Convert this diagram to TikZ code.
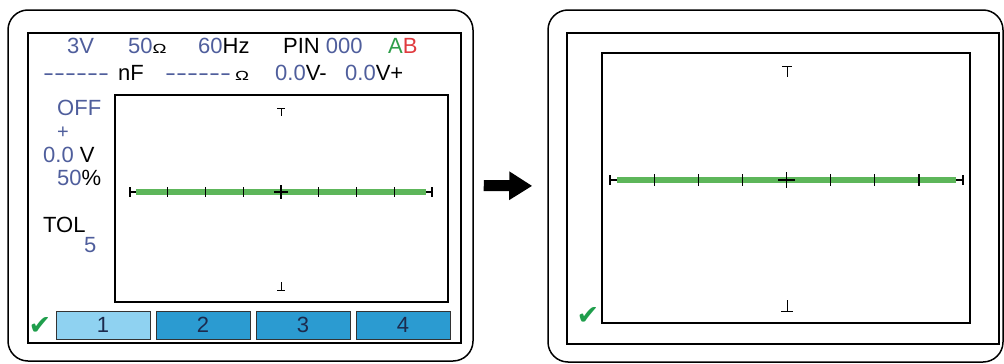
\documentclass[tikz,border=0pt]{standalone}
\usepackage{xcolor}
\usepackage{fontspec}
\setmainfont{Liberation Sans}
\newfontfamily\symfont{DejaVu Sans}
\usepackage{tikz}
\usetikzlibrary{arrows.meta, positioning}

\definecolor{scrblue}{HTML}{4F5E9C}
\definecolor{abgreen}{HTML}{2E9E4A}
\definecolor{abred}{HTML}{E03A3E}
\definecolor{tracegreen}{HTML}{5DB65A}
\definecolor{keylight}{HTML}{8FD2F1}
\definecolor{keydark}{HTML}{2B9BD1}
\definecolor{keytext}{HTML}{1C2B4E}
\definecolor{okgreen}{HTML}{1F9E4C}

\tikzstyle{panel} = [rectangle, rounded corners=20pt, draw=black, line width=1.5pt, inner sep=0pt]
\tikzstyle{lcd} = [rectangle, draw=black, line width=2.5pt, inner sep=0pt]
\tikzstyle{plotbox} = [rectangle, draw=black, line width=2pt, inner sep=0pt]
\tikzstyle{readout} = [font=\fontsize{22}{26}\selectfont, inner sep=0pt, anchor=base west]
\tikzstyle{softkey} = [rectangle, draw=black!80, line width=1pt, minimum width=94pt, minimum height=28pt, font=\fontsize{22}{24}\selectfont, text=keytext]
\tikzstyle{okmark} = [font=\symfont\fontsize{27}{28}\selectfont, text=okgreen, inner sep=0pt]
\tikzstyle{trace} = [tracegreen, line width=6pt]
\tikzstyle{gridtick} = [black, line width=1.2pt]
\tikzstyle{arrow} = [line width=11pt, -{Triangle[length=23pt,width=27pt]}]

% hyphens kept apart so they do not turn into dashes
\newcommand{\dashrun}{\scalebox{1.5}[1]{-{}-{}-{}-{}-{}-}}
\newcommand{\smallohm}{\scalebox{0.85}[0.6]{Ω}}

\begin{document}
\begin{tikzpicture}[x=1pt, y=-1pt]
	\useasboundingbox (0,0) rectangle (1004,364);

	% the two meter faces
	\node (lpanel) [panel, minimum width=465pt, minimum height=351pt] at (240.5,185.5) {};
	\node (rpanel) [panel, minimum width=455pt, minimum height=352pt] at (775.5,186) {};
	\node (llcd) [lcd, minimum width=433pt, minimum height=310pt] at (244.5,188) {};
	\node (rlcd) [lcd, minimum width=432pt, minimum height=311pt] at (783,188.5) {};
	\node (lplot) [plotbox, minimum width=333pt, minimum height=207pt] at (281.5,198.5) {};
	\node (rplot) [plotbox, minimum width=368pt, minimum height=270pt] at (786,188) {};

	% status lines
	\node (volts) [readout, text=scrblue] at (67,53) {3V};
	\node (imp) [readout] at (128,53) {\color{scrblue}50\color{black}\smallohm};
	\node (freq) [readout] at (198,53) {\color{scrblue}60\color{black}Hz};
	\node (pin) [readout] at (283,53) {PIN \color{scrblue}000};
	\node (chan) [readout] at (388,53) {\color{abgreen}A\color{abred}B};
	\node (capdash) [readout, text=scrblue] at (43,80) {\dashrun};
	\node (capunit) [readout] at (118,80) {nF};
	\node (resdash) [readout, text=scrblue] at (165,80) {\dashrun};
	\node (resunit) [readout] at (235,80) {\smallohm};
	\node (vneg) [readout] at (275,80) {\color{scrblue}0.0\color{black}V-};
	\node (vpos) [readout] at (345,80) {\color{scrblue}0.0\color{black}V+};

	% left column
	\node (pulse) [readout, text=scrblue] at (57,115) {OFF};
	\node (pol) [readout, text=scrblue, font=\fontsize{20}{24}\selectfont] at (57,138) {+};
	\node (offset) [readout] at (43,162) {\color{scrblue}0.0 \color{black}V};
	\node (duty) [readout] at (57,185) {\color{scrblue}50\color{black}\%};
	\node (tol) [readout] at (43,232) {TOL};
	\node (tolval) [readout, text=scrblue] at (84,252) {5};

	% soft keys
	\node (key1) [softkey, fill=keylight] at (103,325) {1};
	\node (key2) [softkey, fill=keydark, right=5pt of key1] {2};
	\node (key3) [softkey, fill=keydark, right=5pt of key2] {3};
	\node (key4) [softkey, fill=keydark, right=5pt of key3] {4};
	\node (lok) [okmark] at (40,326) {✔};
	\node (rok) [okmark] at (588,316) {✔};

	% left trace
	\draw [trace] (136,192) -- (426,192);
	\draw [gridtick] (130,187) -- (130,197) (130,192) -- (136,192);
	\draw [gridtick] (432,187) -- (432,197) (426,192) -- (432,192);
	\foreach \x in {167.75,205.5,243.25,318.75,356.5,394.25}
		\draw [gridtick] (\x,187) -- (\x,197);
	\draw [gridtick] (281,185) -- (281,199) (274,192) -- (288,192);
	\draw [gridtick, line width=1pt] (277,108) -- (285,108) (281,108) -- (281,116);
	\draw [gridtick, line width=1pt] (281,282) -- (281,290) (277,290) -- (285,290);

	% right trace
	\draw [trace] (617,180) -- (956,180);
	\draw [gridtick] (610,175) -- (610,185) (610,180) -- (617,180);
	\draw [gridtick] (963,175) -- (963,185) (956,180) -- (963,180);
	\foreach \x in {654.1,698.3,742.4,830.6,874.8,918.9}
		\draw [gridtick] (\x,174) -- (\x,186);
	\draw [gridtick] (786.5,172) -- (786.5,188) (778,180) -- (795,180);
	\draw [gridtick, line width=1pt] (782,66) -- (792,66) (787,66) -- (787,77);
	\draw [gridtick, line width=1pt] (787,300) -- (787,311) (781,311) -- (793,311);

	\draw [arrow, shorten <=10pt, shorten >=15pt] (lpanel.east) -- (rpanel.west);
\end{tikzpicture}
\end{document}
